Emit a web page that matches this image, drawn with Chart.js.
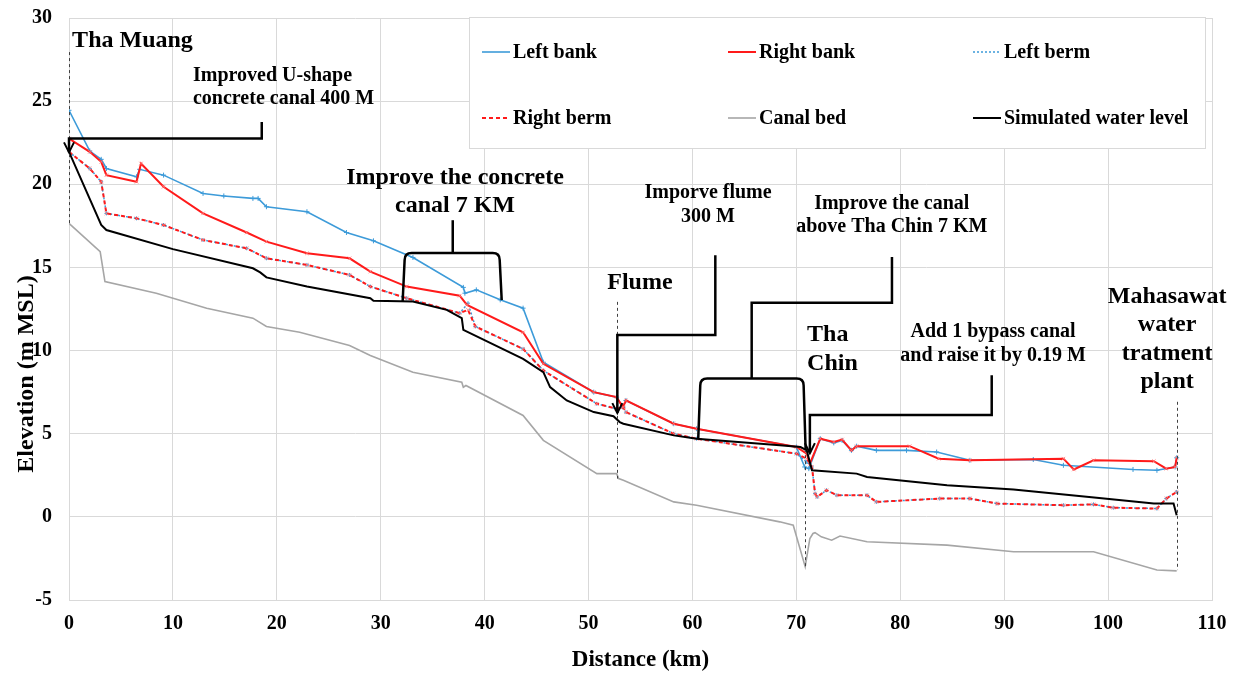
<!DOCTYPE html>
<html>
<head>
<meta charset="utf-8">
<title>Canal elevation profile</title>
<script src="https://cdn.jsdelivr.net/npm/chart.js@4"></script>
<style>
  html, body { margin: 0; padding: 0; background: #fff; }
  #wrap { width: 1239px; height: 677px; }
</style>
</head>
<body>
<div id="wrap"><canvas id="profile" width="1239" height="677"></canvas></div>
<script>
// Distance along canal (km) and elevation (m MSL)
const leftBankKm = [0, 2.0, 3.1, 3.6, 6.5, 6.8, 9.1, 12.9, 14.9, 17.7, 18.2, 19.0, 22.9, 26.7, 29.3, 33.1, 37.95, 38.1, 39.2, 41.5, 43.7, 45.65, 50.5, 52.7, 53.3, 53.6, 58.2, 60.4, 70.0, 70.8, 71.2, 72.3, 73.6, 74.4, 75.3, 75.8, 77.7, 80.6, 83.5, 86.7, 92.8, 95.7, 102.4, 104.7, 106.45, 106.6];
const leftBankElev = [24.45, 22.0, 21.5, 20.95, 20.45, 20.9, 20.55, 19.45, 19.3, 19.15, 19.15, 18.65, 18.35, 17.1, 16.6, 15.6, 13.8, 13.45, 13.65, 13.05, 12.55, 9.3, 7.5, 7.2, 6.6, 7.0, 5.6, 5.3, 4.2, 3.0, 2.9, 4.7, 4.45, 4.6, 4.0, 4.25, 4.0, 4.0, 3.9, 3.4, 3.45, 3.1, 2.85, 2.8, 3.0, 3.55];

const rightBankKm = [0, 2.0, 3.1, 3.6, 6.5, 6.93, 9.1, 12.9, 17.1, 19.0, 22.9, 27.0, 29.0, 32.5, 37.6, 38.3, 43.7, 45.65, 50.5, 52.7, 53.3, 53.6, 58.2, 60.4, 70.0, 71.0, 71.3, 72.3, 73.6, 74.4, 75.3, 75.8, 80.9, 83.7, 86.7, 95.7, 96.7, 98.6, 104.4, 105.6, 106.45, 106.6];
const rightBankElev = [22.75, 21.95, 21.35, 20.55, 20.15, 21.25, 19.85, 18.25, 17.1, 16.55, 15.85, 15.55, 14.75, 13.85, 13.3, 12.75, 11.1, 9.2, 7.5, 7.2, 6.6, 7.0, 5.6, 5.3, 4.2, 3.8, 3.2, 4.7, 4.5, 4.65, 4.0, 4.25, 4.25, 3.5, 3.4, 3.5, 2.85, 3.4, 3.35, 2.9, 3.0, 3.55];

const bermKm = [0, 2.0, 3.1, 3.6, 6.5, 9.1, 12.9, 17.1, 19.0, 22.9, 27.0, 29.0, 32.5, 37.6, 38.4, 39.1, 43.7, 45.65, 50.8, 52.7, 53.35, 53.6, 58.2, 60.4, 70.0, 71.0, 71.5, 71.8, 72.0, 72.9, 73.9, 76.8, 77.7, 83.8, 86.7, 89.3, 95.7, 98.6, 100.5, 104.7, 105.6, 106.6];
const leftBermElev = [21.95, 20.95, 20.15, 18.25, 17.95, 17.55, 16.65, 16.15, 15.55, 15.15, 14.55, 13.85, 13.15, 12.25, 12.85, 11.45, 10.1, 8.8, 6.8, 6.5, 6.6, 6.3, 5.0, 4.7, 3.8, 3.3, 3.0, 1.4, 1.2, 1.6, 1.3, 1.3, 0.9, 1.1, 1.1, 0.8, 0.7, 0.75, 0.55, 0.5, 1.1, 1.5];
const rightBermElev = [21.95, 20.95, 20.15, 18.25, 17.95, 17.55, 16.65, 16.15, 15.55, 15.15, 14.55, 13.85, 13.15, 12.25, 12.45, 11.45, 10.1, 8.8, 6.8, 6.5, 6.6, 6.3, 5.0, 4.7, 3.8, 3.5, 3.0, 1.4, 1.2, 1.6, 1.3, 1.3, 0.9, 1.1, 1.1, 0.8, 0.7, 0.75, 0.55, 0.5, 1.1, 1.5];

const canalBedKm = [0, 3.0, 3.46, 8.4, 13.25, 17.7, 19.0, 22.2, 27.0, 29.0, 33.1, 37.8, 37.95, 38.2, 43.7, 45.65, 50.8, 52.7, 52.9, 53.35, 58.2, 60.4, 68.4, 69.7, 70.85, 71.3, 71.6, 71.8, 72.4, 73.4, 74.2, 76.8, 84.5, 90.9, 98.6, 104.7, 106.6];
const canalBedElev = [17.65, 15.95, 14.15, 13.45, 12.55, 11.95, 11.45, 11.1, 10.3, 9.7, 8.7, 8.1, 7.8, 7.9, 6.1, 4.6, 2.6, 2.6, 2.3, 2.2, 0.9, 0.7, -0.3, -0.5, -3.0, -1.3, -1.0, -0.95, -1.2, -1.4, -1.15, -1.5, -1.7, -2.1, -2.1, -3.2, -3.25];

const waterKm = [0, 3.1, 3.6, 10.0, 17.7, 18.4, 19.0, 22.9, 29.0, 29.3, 33.1, 36.35, 37.8, 37.95, 43.7, 45.65, 46.3, 47.9, 50.5, 52.4, 53.0, 53.35, 58.2, 60.4, 68.4, 70.4, 71.0, 71.5, 75.8, 76.8, 84.5, 90.9, 98.9, 104.4, 106.3, 106.6];
const waterElev = [21.95, 17.55, 17.25, 16.1, 14.95, 14.7, 14.4, 13.85, 13.15, 13.0, 12.95, 12.45, 11.95, 11.25, 9.5, 8.7, 7.8, 7.0, 6.3, 6.05, 5.7, 5.6, 4.9, 4.7, 4.3, 4.2, 4.0, 2.8, 2.6, 2.4, 1.9, 1.65, 1.15, 0.8, 0.8, 0.1];

const seriesNames = ['Left bank', 'Right bank', 'Left berm', 'Right berm', 'Canal bed', 'Simulated water level'];

// station markers (km) with the elevation span of the dashed guide
const stationKm = [0, 52.77, 70.85, 106.64];
const stationTop = [27.95, 12.93, 4.43, 6.92];
const stationBottom = [17.6, 2.3, -3.0, -3.2];

const SERIF = "'Liberation Serif', 'Times New Roman', serif";

function zip(xs, ys) {
  return xs.map((x, i) => ({ x: x, y: ys[i] }));
}

// Station names and the improvement notes (data coordinates)
const labels = [
  { lines: ['Tha Muang'], x: 0.3, y: 28.65, size: 24, align: 'left' },
  { lines: ['Improved U-shape', 'concrete canal 400 M'], x: 11.93, y: 26.55, size: 20, align: 'left' },
  { lines: ['Improve the concrete', 'canal 7 KM'], x: 37.15, y: 20.42, size: 24, align: 'center' },
  { lines: ['Imporve flume', '300 M'], x: 61.5, y: 19.46, size: 20, align: 'center' },
  { lines: ['Flume'], x: 51.8, y: 14.05, size: 24, align: 'left' },
  { lines: ['Improve the canal', 'above Tha Chin 7 KM'], x: 79.18, y: 18.84, size: 20, align: 'center' },
  { lines: ['Tha', 'Chin'], x: 71.03, y: 10.93, size: 24, align: 'left' },
  { lines: ['Add 1 bypass canal', 'and raise it by 0.19 M'], x: 88.93, y: 11.12, size: 20, align: 'center' },
  { lines: ['Mahasawat', 'water', 'tratment', 'plant'], x: 105.68, y: 13.23, size: 24, align: 'center' }
];

// leader lines: polyline in data coords, optional arrow at the end
const leaders = [
  { pts: [[18.55, 23.74], [18.55, 22.75], [0, 22.75], [0, 21.92]], arrow: true },
  { pts: [[62.2, 15.73], [62.2, 10.93], [52.77, 10.93], [52.77, 6.24]], arrow: true },
  { pts: [[79.2, 15.63], [79.2, 12.87], [65.7, 12.87], [65.7, 8.32]], arrow: false },
  { pts: [[88.8, 8.52], [88.8, 6.12], [71.3, 6.12], [71.3, 3.83]], arrow: true },
  { pts: [[36.93, 17.84], [36.93, 15.87]], arrow: false }
];

// brace brackets: left leg x/bottom, right leg x/bottom, top y
const braces = [
  { x1: 32.3, b1: 12.93, x2: 41.45, b2: 13.03, top: 15.87 },
  { x1: 60.75, b1: 4.72, x2: 70.7, b2: 4.01, top: 8.32 }
];

const annotationPlugin = {
  id: 'annotations',
  afterDatasetsDraw(chart) {
    const ctx = chart.ctx;
    const xs = chart.scales.x, ys = chart.scales.y;
    const px = v => xs.getPixelForValue(v);
    const py = v => ys.getPixelForValue(v);

    ctx.save();
    // dashed station guides
    ctx.strokeStyle = '#404040';
    ctx.lineWidth = 1;
    ctx.setLineDash([3, 3]);
    stationKm.forEach((k, i) => {
      ctx.beginPath();
      ctx.moveTo(Math.round(px(k)) + 0.5, py(stationTop[i]));
      ctx.lineTo(Math.round(px(k)) + 0.5, py(stationBottom[i]));
      ctx.stroke();
    });
    ctx.setLineDash([]);

    ctx.strokeStyle = '#000';
    ctx.lineWidth = 2.5;
    ctx.lineJoin = 'miter';
    leaders.forEach(l => {
      ctx.beginPath();
      l.pts.forEach((p, i) => {
        if (i === 0) ctx.moveTo(px(p[0]), py(p[1]));
        else ctx.lineTo(px(p[0]), py(p[1]));
      });
      ctx.stroke();
      if (l.arrow) {
        const tip = l.pts[l.pts.length - 1];
        const tx = px(tip[0]), ty = py(tip[1]);
        ctx.lineWidth = 2;
        ctx.beginPath();
        ctx.moveTo(tx - 5, ty - 10);
        ctx.lineTo(tx, ty);
        ctx.lineTo(tx + 5, ty - 10);
        ctx.stroke();
        ctx.lineWidth = 2.5;
      }
    });

    braces.forEach(b => {
      const r = 7;
      const x1 = px(b.x1), x2 = px(b.x2), t = py(b.top);
      ctx.beginPath();
      ctx.moveTo(x1 - 2, py(b.b1));
      ctx.lineTo(x1, t + r);
      ctx.quadraticCurveTo(x1, t, x1 + r, t);
      ctx.lineTo(x2 - r, t);
      ctx.quadraticCurveTo(x2, t, x2, t + r);
      ctx.lineTo(x2 + 2, py(b.b2));
      ctx.stroke();
    });

    // text
    ctx.fillStyle = '#000';
    ctx.textBaseline = 'middle';
    labels.forEach(lb => {
      ctx.font = 'bold ' + lb.size + 'px ' + SERIF;
      ctx.textAlign = lb.align;
      const lh = lb.size * 1.18;
      lb.lines.forEach((s, i) => {
        ctx.fillText(s, px(lb.x), py(lb.y) + i * lh);
      });
    });

    // y axis title
    ctx.translate(27, 374);
    ctx.rotate(-Math.PI / 2);
    ctx.textAlign = 'center';
    ctx.font = 'bold 24px ' + SERIF;
    ctx.fillText('Elevation (m MSL)', 0, 0);
    ctx.restore();
  },
  afterDraw(chart) {
    // legend box, 3 columns x 2 rows, inside the plot area
    const ctx = chart.ctx;
    const colX = [482, 728, 973];
    const rowY = [52, 118];
    ctx.save();
    ctx.fillStyle = '#fff';
    ctx.fillRect(469, 17, 736, 131);
    ctx.strokeStyle = '#d9d9d9';
    ctx.lineWidth = 1;
    ctx.strokeRect(469.5, 17.5, 736, 131);
    ctx.font = 'bold 20px ' + SERIF;
    ctx.textBaseline = 'middle';
    ctx.textAlign = 'left';
    chart.data.datasets.forEach((ds, i) => {
      const x = colX[i % 3], y = rowY[Math.floor(i / 3)];
      ctx.strokeStyle = ds.borderColor;
      ctx.lineWidth = ds.borderWidth;
      ctx.setLineDash(ds.borderDash || []);
      ctx.beginPath();
      ctx.moveTo(x, y);
      ctx.lineTo(x + 28, y);
      ctx.stroke();
      ctx.setLineDash([]);
      ctx.fillStyle = '#000';
      ctx.fillText(ds.label, x + 31, y + 1);
    });
    ctx.restore();
  }
};

const blue = '#3d9bd9';
const red = '#ff1a1a';

const chart = new Chart(document.getElementById('profile'), {
  type: 'line',
  data: {
    datasets: [
      {
        label: seriesNames[0], data: zip(leftBankKm, leftBankElev), order: 3,
        borderColor: blue, borderWidth: 1.6,
        pointStyle: 'cross', pointRadius: 2.5, pointBorderWidth: 1, pointBorderColor: blue
      },
      {
        label: seriesNames[1], data: zip(rightBankKm, rightBankElev), order: 1,
        borderColor: red, borderWidth: 2,
        pointStyle: 'crossRot', pointRadius: 2.5, pointBorderWidth: 1, pointBorderColor: 'rgba(255,120,120,0.8)'
      },
      {
        label: seriesNames[2], data: zip(bermKm, leftBermElev), order: 4,
        borderColor: blue, borderWidth: 1.5, borderDash: [2, 2],
        pointStyle: 'cross', pointRadius: 2, pointBorderWidth: 1, pointBorderColor: blue
      },
      {
        label: seriesNames[3], data: zip(bermKm, rightBermElev), order: 2,
        borderColor: red, borderWidth: 2, borderDash: [4, 3],
        pointStyle: 'crossRot', pointRadius: 2.5, pointBorderWidth: 1, pointBorderColor: 'rgba(255,120,120,0.8)'
      },
      {
        label: seriesNames[4], data: zip(canalBedKm, canalBedElev), order: 5,
        borderColor: '#a6a6a6', borderWidth: 1.6, pointRadius: 0
      },
      {
        label: seriesNames[5], data: zip(waterKm, waterElev), order: 0,
        borderColor: '#000', borderWidth: 2, pointRadius: 0
      }
    ]
  },
  options: {
    responsive: false,
    animation: false,
    layout: { padding: { left: 0, right: 27, top: 18, bottom: 0 } },
    elements: { line: { tension: 0, fill: false } },
    plugins: {
      legend: { display: false },
      tooltip: { enabled: false }
    },
    scales: {
      x: {
        type: 'linear',
        min: 0, max: 110,
        ticks: {
          stepSize: 10, padding: 12, color: '#000',
          font: { family: SERIF, size: 20, weight: 'bold' }
        },
        grid: { color: '#d9d9d9', drawTicks: false },
        border: { color: '#d9d9d9' },
        title: {
          display: true, text: 'Distance (km)', color: '#000',
          font: { family: SERIF, size: 23, weight: 'bold' },
          padding: { top: 0, bottom: 3 }
        },
        afterFit(scale) { scale.height = 77; }
      },
      y: {
        type: 'linear',
        min: -5, max: 30,
        ticks: {
          stepSize: 5, padding: 17, color: '#000',
          font: { family: SERIF, size: 20, weight: 'bold' }
        },
        grid: { color: '#d9d9d9', drawTicks: false },
        border: { color: '#d9d9d9' },
        afterFit(scale) {
          scale.width = 69;
          scale.paddingTop = 0;
          scale.paddingBottom = 0;
        }
      }
    }
  },
  plugins: [annotationPlugin]
});
</script>
</body>
</html>
